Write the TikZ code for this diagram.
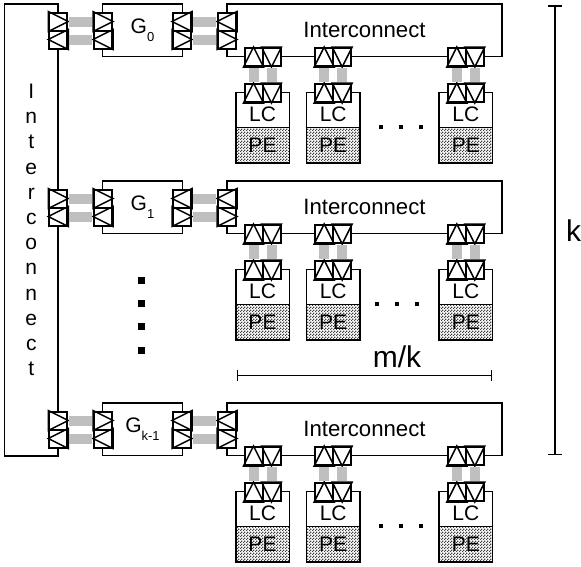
\documentclass[tikz,border=0pt]{standalone}
\usepackage{fontspec}
\setmainfont{Liberation Sans}
\usetikzlibrary{patterns, arrows.meta}

\pgfdeclarepatternformonly{checks}{\pgfqpoint{0pt}{0pt}}{\pgfqpoint{3pt}{3pt}}{\pgfqpoint{3pt}{3pt}}{
  \pgfpathrectangle{\pgfqpoint{0pt}{0pt}}{\pgfqpoint{1.5pt}{1.5pt}}
  \pgfpathrectangle{\pgfqpoint{1.5pt}{1.5pt}}{\pgfqpoint{1.5pt}{1.5pt}}
  \pgfusepath{fill}
}

\newcommand\portbox[6]{
  \node[port] (#1) at (#2, #3) {};
  \draw[tri] (#1.#4) -- (#1.#5) -- (#1.#6) -- cycle;
}
\newcommand\portR[3]{\portbox{#1}{#2}{#3}{north west}{east}{south west}}
\newcommand\portL[3]{\portbox{#1}{#2}{#3}{north east}{west}{south east}}
\newcommand\portU[3]{\portbox{#1}{#2}{#3}{south west}{north}{south east}}
\newcommand\portD[3]{\portbox{#1}{#2}{#3}{north west}{south}{north east}}
\newcommand\gsub[1]{\raisebox{-7.5pt}{\fontsize{13}{13}\selectfont #1}}

\tikzset{
  txt/.style={font=\fontsize{21}{25.2}\selectfont},
  bigtxt/.style={font=\fontsize{30}{30}\selectfont, anchor=base},
  box/.style={draw, line width=1.5pt, inner sep=0pt, txt},
  port/.style={draw, fill=white, line width=2pt, inner sep=0pt, minimum size=18pt},
  tri/.style={line width=1.5pt},
  bar/.style={draw=gray!50, line width=10pt, shorten >=1pt, shorten <=1pt},
  lcbox/.style={box, fill=white, minimum width=53.5pt, text height=29.4pt, text depth=5.8pt},
  pebox/.style={box, pattern=checks, pattern color=black!75, minimum width=53.5pt, minimum height=35.5pt},
  span/.style={line width=1.5pt},
  hdot/.style={fill=black, inner sep=0pt, minimum size=4pt},
  vdot/.style={fill=black, inner sep=0pt, minimum size=7pt},
}

\begin{document}
\begin{tikzpicture}[x=1pt, y=-1pt]
  \useasboundingbox (0, 0) rectangle (581, 566);

  % --
  \node[box, minimum width=53.5pt, minimum height=452pt, align=center] (ring) at (31.25, 230)
      {I\\n\\t\\e\\r\\c\\o\\n\\n\\e\\c\\t};

  \foreach\r/\yo/\gname/\dotx in {0/0/0/381, 1/177/1/377, 2/399/k-1/381} {
    \edef\yA{\yo + 21.5}
    \edef\yB{\yo + 39.5}
    \edef\yC{\yo + 57}
    \edef\yD{\yo + 93}

    \node[box, minimum width=80pt, minimum height=52.5pt] (G\r) at (142.5, \yo + 30.25)
        {G\gsub{\gname}};
    \node[box, minimum width=275pt, minimum height=52.5pt, font=\fontsize{22.2}{25}\selectfont]
        (net\r) at (364.5, \yo + 30.25) {Interconnect};

    \foreach\c/\x in {a/58.25, b/103} {
      \portR{\c\r t}{\x}{\yA}
      \portL{\c\r b}{\x}{\yB}
    }
    \foreach\c/\x in {c/182, d/227} {
      \portL{\c\r t}{\x}{\yA}
      \portR{\c\r b}{\x}{\yB}
    }
    \foreach\s in {t, b} {
      \draw[bar] (a\r\s.east) -- (b\r\s.west);
      \draw[bar] (c\r\s.east) -- (d\r\s.west);
    }

    \foreach\j/\x in {0/262.5, 1/333.2, 2/465.8} {
      \node[lcbox] (lc\r\j) at (\x, \yo + 110) {LC};
      \node[pebox] (pe\r\j) at (\x, \yo + 145.25) {PE};
      \portU{up\r\j}{\x - 9}{\yC}
      \portD{dn\r\j}{\x + 9}{\yC}
      \portU{lcu\r\j}{\x - 9}{\yD}
      \portD{lcd\r\j}{\x + 9}{\yD}
      \draw[bar] (up\r\j.south) -- (lcu\r\j.north);
      \draw[bar] (dn\r\j.south) -- (lcd\r\j.north);
    }

    \foreach\k in {0, 1, 2} {
      \node[hdot] (dot\r\k) at (\dotx + 20 * \k, \yo + 127.2) {};
    }
  }

  \foreach\k in {0, ..., 3} {
    \node[vdot] (vdot\k) at (141.5, 280 + 23.4 * \k) {};
  }

  \coordinate (mkA) at (236.7, 375.7);
  \coordinate (mkB) at (492, 375.7);
  \draw[span, {Bar[width=11pt]}-{Bar[width=11pt]}] (mkA) -- (mkB);
  \node[bigtxt] (mk) at (397, 367) {m/k};

  \coordinate (kA) at (555, 5);
  \coordinate (kB) at (555, 455);
  \draw[span, {Bar[width=14pt]}-{Bar[width=14pt]}] (kA) -- (kB);
  \node[bigtxt] (k) at (573.5, 241) {k};

\end{tikzpicture}
\end{document}
